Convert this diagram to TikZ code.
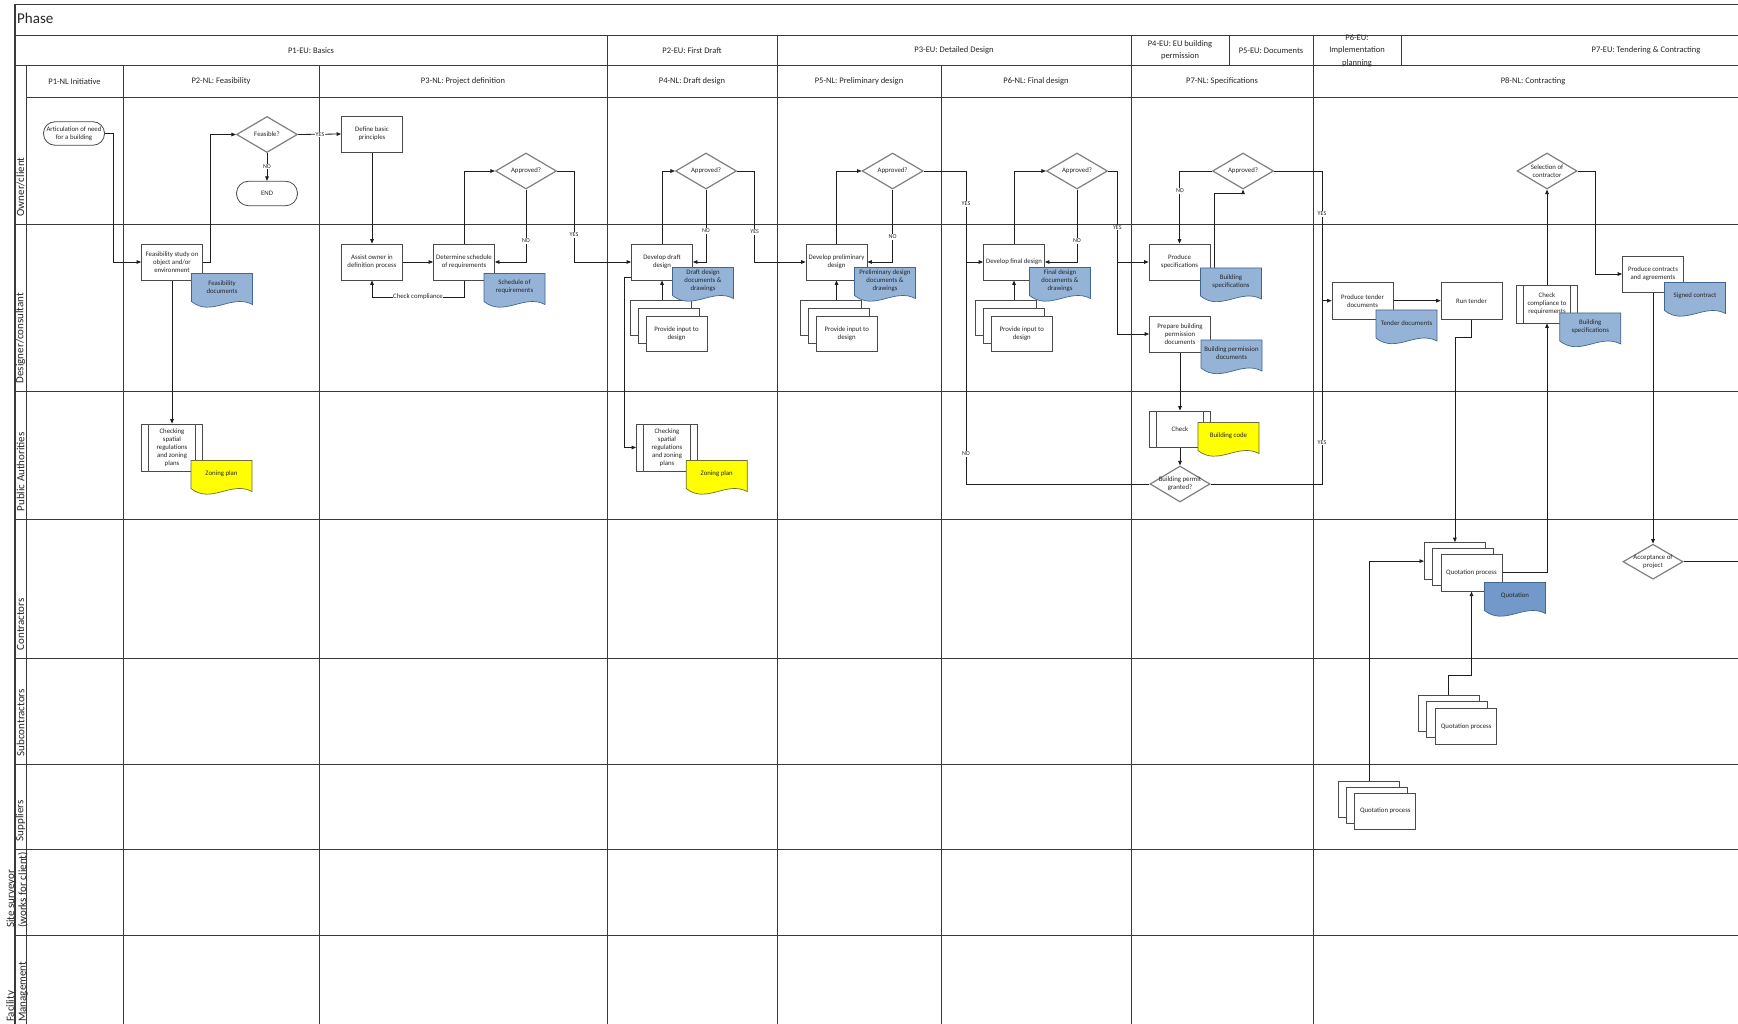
\documentclass[tikz,border=0pt]{standalone}
\usepackage{fontspec}
\setmainfont{Carlito}
\usetikzlibrary{shapes.geometric,arrows.meta,calc,backgrounds}

\definecolor{lanec}{HTML}{3A3A3A}
\definecolor{linec}{HTML}{1E1E1E}
\definecolor{boxc}{HTML}{4A4A4A}
\definecolor{diac}{HTML}{808080}
\definecolor{docblue}{HTML}{95B3D7}
\definecolor{docblueline}{HTML}{41668F}
\definecolor{quoteblue}{HTML}{7399CB}
\definecolor{docyellow}{HTML}{FFFF00}
\definecolor{yellowline}{HTML}{6B6B3A}
\definecolor{txt}{HTML}{262626}

\tikzset{
  laneline/.style={draw=lanec, line width=0.9pt},
  outerline/.style={draw=lanec, line width=1.4pt},
  boxfont/.style={font=\fontsize{6.8}{8}\selectfont, text=txt, align=center},
  procbox/.style={rectangle, draw=boxc, line width=0.8pt, fill=white,
    minimum width=61pt, minimum height=36pt, inner sep=0.5pt, boxfont},
  subproc/.style={procbox, path picture={
    \draw[draw=boxc, line width=0.8pt]
      ([xshift=7pt]path picture bounding box.north west) -- ([xshift=7pt]path picture bounding box.south west)
      ([xshift=-7pt]path picture bounding box.north east) -- ([xshift=-7pt]path picture bounding box.south east);}},
  termbox/.style={rectangle, rounded corners=11.5pt, draw=boxc, line width=0.8pt, fill=white,
    minimum width=61pt, minimum height=23.5pt, inner sep=0pt, boxfont},
  decision/.style={diamond, draw=diac, line width=1.2pt, fill=white,
    minimum width=61pt, minimum height=36pt, inner sep=0pt},
  dectext/.style={boxfont, inner sep=0pt},
  flow/.style={draw=linec, line width=0.8pt, -{Triangle[length=4.5pt,width=3.6pt]}},
  plainflow/.style={draw=linec, line width=0.8pt},
  yn/.style={font=\fontsize{6}{7}\selectfont, fill=white, inner sep=0.6pt, text=txt},
  lanelabel/.style={font=\fontsize{11}{12}\selectfont, rotate=90, anchor=west, text=txt,
    inner sep=0pt, align=left},
  hdr/.style={font=\fontsize{8.5}{10}\selectfont, text=txt, align=center, inner sep=0pt},
}

% document symbol: name, centre x, centre y, fill, outline, text
\newcommand\docnode[6]{%
  \node[inner sep=0pt, minimum width=61pt, minimum height=35pt] (#1) at (#2,#3) {};
  \begin{scope}[shift={(#2-30.5,#3-17.5)}]
    \filldraw[fill=#4, draw=#5, line width=0.7pt]
      (0,0) -- (61,0) -- (61,31) .. controls (40,20) and (20,44) .. (0,28) -- cycle;
  \end{scope}
  \node[boxfont, inner sep=0pt] at (#2,#3-4) {#6};
}

% stack of three process boxes: name, front centre x, y, offset x, offset y, text
\newcommand\stacknode[7]{%
  \node[procbox, minimum height=#7] (#1-b) at (#2-2*#4,#3-2*#5) {};
  \node[procbox, minimum height=#7] (#1-m) at (#2-#4,#3-#5) {};
  \node[procbox, minimum height=#7] (#1) at (#2,#3) {#6};
}

\begin{document}
\begin{tikzpicture}[x=1pt, y=-1pt]
\useasboundingbox (0,0) rectangle (1738,1024);

\begin{pgfonlayer}{background}
\fill[white] (0,0) rectangle (1738,1024);
% swimlane grid
\foreach \yy in {35.5,65.4,224,391,519,658,764,849,935.5}
  \draw[laneline] (15,\yy) -- (1738,\yy);
\draw[laneline] (26,97.5) -- (1738,97.5);
\foreach \xx in {607,777,1131,1313}
  \draw[laneline] (\xx,35.5) -- (\xx,1024);
\foreach \xx in {1229,1401}
  \draw[laneline] (\xx,35.5) -- (\xx,65.4);
\foreach \xx in {26,123,319,941}
  \draw[laneline] (\xx,65.4) -- (\xx,1024);
\draw[outerline] (15,1024) -- (15,4.4) -- (1738,4.4);
\end{pgfonlayer}

% headers
\node[anchor=west, font=\fontsize{15}{17}\selectfont, text=txt, inner sep=0pt] (phase) at (17,18.5) {Phase};
\node[hdr] (eu1) at (311,50.5) {P1-EU: Basics};
\node[hdr] (eu2) at (692,50.5) {P2-EU: First Draft};
\node[hdr] (eu3) at (954,50.5) {P3-EU: Detailed Design};
\node[hdr, font=\fontsize{8.5}{12}\selectfont] (eu4) at (1180,50.5) {P4-EU: EU building\\permission};
\node[hdr] (eu5) at (1271,50.5) {P5-EU: Documents};
\node[hdr, font=\fontsize{8.5}{12.5}\selectfont] (eu6) at (1357,50.5) {P6-EU:\\Implementation\\planning};
\node[hdr] (eu7) at (1646,50.5) {P7-EU: Tendering \& Contracting};

\node[hdr] (nl1) at (74.5,81.5) {P1-NL Initiative};
\node[hdr] (nl2) at (221,81.5) {P2-NL: Feasibility};
\node[hdr] (nl3) at (463,81.5) {P3-NL: Project definition};
\node[hdr] (nl4) at (692,81.5) {P4-NL: Draft design};
\node[hdr] (nl5) at (859,81.5) {P5-NL: Preliminary design};
\node[hdr] (nl6) at (1036,81.5) {P6-NL: Final design};
\node[hdr] (nl7) at (1222,81.5) {P7-NL: Specifications};
\node[hdr] (nl8) at (1533,81.5) {P8-NL: Contracting};

% lane labels
\node[lanelabel] (l1) at (20.5,216.5) {Owner/client};
\node[lanelabel] (l2) at (20.5,383.5) {Designer/consultant};
\node[lanelabel] (l3) at (20.5,511.5) {Public Authorities};
\node[lanelabel] (l4) at (20.5,650.5) {Contractors};
\node[lanelabel] (l5) at (20.5,756.5) {Subcontractors};
\node[lanelabel] (l6) at (20.5,841.5) {Suppliers};
\node[lanelabel] (l7) at (17,928) {Site surveyor\\(works for client)};
\node[lanelabel] (l8) at (17,1022) {Facility\\Management};

% owner / client
\node[termbox] (art) at (74,133.5) {Articulation of need\\for a building};
\node[decision, label={[dectext]center:Feasible?}] (feas) at (267,134.5) {};
\node[termbox, minimum height=24.5pt, rounded corners=12pt] (endt) at (267,193.5) {END};
\node[procbox] (basic) at (372,134) {Define basic\\principles};
\node[decision, label={[dectext]center:Approved?}] (ap3) at (526,171) {};
\node[decision, label={[dectext]center:Approved?}] (ap4) at (706,171) {};
\node[decision, label={[dectext]center:Approved?}] (ap5) at (892.6,171) {};
\node[decision, label={[dectext]center:Approved?}] (ap6) at (1077,171) {};
\node[decision, label={[dectext]center:Approved?}] (ap7) at (1243,171) {};
\node[decision, minimum width=60pt, label={[dectext]center:{Selection of\\contractor}}] (selc) at (1547,171) {};

% designer / consultant
\node[procbox] (fstudy) at (172,262) {Feasibility study on\\object and/or\\environment};
\node[procbox] (assist) at (372,262) {Assist owner in\\definition process};
\node[procbox] (sched) at (464,262) {Determine schedule\\of requirements};
\node[procbox] (ddraft) at (662,262) {Develop draft\\design};
\node[procbox] (dprelim) at (836.5,262) {Develop preliminary\\design};
\node[procbox] (dfinal) at (1014,262) {Develop final design};
\node[procbox] (pspec) at (1179.5,262) {Produce\\specifications};
\node[procbox] (pbp) at (1180,334) {Prepare building\\permission\\documents};
\node[procbox, minimum height=37pt] (ptender) at (1362.5,300.7) {Produce tender\\documents};
\node[procbox, minimum height=37pt] (rtender) at (1471.5,300.7) {Run tender};
\node[subproc, minimum height=38pt] (ccomp) at (1547,304) {Check\\compliance to\\requirements};
\node[procbox] (pcontr) at (1653,274) {Produce contracts\\and agreements};
\stacknode{in4}{676.5}{334}{8}{8}{Provide input to\\design}{35pt}
\stacknode{in5}{846.7}{334}{8}{8}{Provide input to\\design}{35pt}
\stacknode{in6}{1021.8}{334}{8}{8}{Provide input to\\design}{35pt}

% public authorities
\node[subproc, minimum height=47pt] (chk1) at (172,447.5) {Checking\\spatial\\regulations\\and zoning\\plans};
\node[subproc, minimum height=47pt] (chk2) at (667,447.5) {Checking\\spatial\\regulations\\and zoning\\plans};
\node[subproc] (chk) at (1180,429) {Check};
\node[decision, minimum width=60pt, label={[dectext]center:{Building permit\\granted?}}] (bpg) at (1180,484) {};

% contractors, subcontractors, suppliers
\stacknode{qc}{1471.5}{572.7}{8.3}{5.8}{Quotation process}{37pt}
\node[decision, minimum width=60pt, minimum height=35pt, label={[dectext]center:{Acceptance of\\project}}] (accp) at (1653,561.7) {};
\stacknode{qs}{1466.2}{726.2}{8.85}{6.5}{Quotation process}{36pt}
\stacknode{qp}{1385.3}{811}{8}{6}{Quotation process}{36pt}

% documents
\docnode{fdoc}{222}{291}{docblue}{docblueline}{Feasibility\\documents}
\docnode{sdoc}{514.5}{291}{docblue}{docblueline}{Schedule of\\requirements}
\docnode{dddoc}{703}{285}{docblue}{docblueline}{Draft design\\documents \&\\drawings}
\docnode{pddoc}{885}{285}{docblue}{docblueline}{Preliminary design\\documents \&\\drawings}
\docnode{fddoc}{1060}{285}{docblue}{docblueline}{Final design\\documents \&\\drawings}
\docnode{bsdoc}{1231}{285.5}{docblue}{docblueline}{Building\\specifications}
\docnode{bpdoc}{1231.5}{357.5}{docblue}{docblueline}{Building permission\\documents}
\docnode{tdoc}{1406.5}{327.5}{docblue}{docblueline}{Tender documents}
\docnode{bs2doc}{1590.3}{330.5}{docblue}{docblueline}{Building\\specifications}
\docnode{scdoc}{1695}{300}{docblue}{docblueline}{Signed contract}
\docnode{zp1}{221.5}{478}{docyellow}{yellowline}{Zoning plan}
\docnode{zp2}{716.7}{478}{docyellow}{yellowline}{Zoning plan}
\docnode{bcode}{1228.5}{440}{docyellow}{yellowline}{Building code}
\docnode{qdoc}{1515}{600}{quoteblue}{docblueline}{Quotation}

% connectors
\begin{pgfonlayer}{background}
\draw[flow] (art.east) -- (113,133.5) |- (fstudy.west);
\draw[flow] (fstudy.east) -- (210,262) |- (feas.west);
\draw[flow] (feas.east) -- (basic.west);
\draw[flow] (feas.south) -- (endt.north);
\draw[flow] (basic.south) -- (assist.north);
\draw[flow] (assist.east) -- (sched.west);
\draw[flow] (sched.south) -- (464,297) -- (372,297) -- (assist.south);
\draw[flow] (sched.north) |- (ap3.west);
\draw[flow] (ap3.south) |- (sched.east);
\draw[flow] (ap3.east) -- (574,171) |- (ddraft.west);
\draw[flow] (fstudy.south) -- (chk1.north);

\draw[flow] (ddraft.north) |- (ap4.west);
\draw[flow] (ap4.south) |- (ddraft.east);
\draw[flow] (ap4.east) -- (754.7,171) |- (dprelim.west);
\draw[flow] (ddraft.south |- in4-b.north) -- (ddraft.south);
\draw[flow] ([yshift=3pt]ddraft.south west) -- ++(-7,0) |- (chk2.west);

\draw[flow] (dprelim.north) |- (ap5.west);
\draw[flow] (ap5.south) |- (dprelim.east);
\draw[flow] (ap5.east) -- (966,171) |- (dfinal.west);
\draw[flow] (dprelim.south |- in5-b.north) -- (dprelim.south);
\draw[plainflow] (bpg.west) -- (966,484) -- (966,262);

\draw[flow] (dfinal.north) |- (ap6.west);
\draw[flow] (ap6.south) |- (dfinal.east);
\draw[flow] (ap6.east) -- (1117.3,171) |- (pspec.west);
\draw[flow] (1117.3,262) |- (pbp.west);
\draw[flow] (dfinal.south |- in6-b.north) -- (dfinal.south);

\draw[flow] (ap7.west) -| (pspec.north);
\draw[flow] ([xshift=14.5pt]bsdoc.north west) |- (1230,193.3) -| (ap7.south);
\draw[flow] (ap7.east) -- (1322,171) |- (ptender.west);
\draw[plainflow] (bpg.east) -- (1322,484) -- (1322,300.7);
\draw[flow] (pbp.south) -- (chk.north);
\draw[flow] (chk.south) -- (bpg.north);

\draw[flow] (ptender.east) -- (rtender.west);
\draw[flow] (rtender.south) -- ++(0,18) -| (qc-b.north);
\draw[flow] (ccomp.north) -- (selc.south);
\draw[flow] (selc.east) -- (1595,171) |- (pcontr.west);
\draw[flow] (qc.east) -| (ccomp.south);
\draw[flow] (pcontr.south) -- (accp.north);
\draw[plainflow] (accp.east) -- ++(60,0);
\draw[flow] (qs-b.north) -- ++(0,-19) -| (qc.south);
\draw[flow] (qp-b.north) |- (qc-b.west);

% branch labels
\node[yn] (y1) at (320,134.5) {YES};
\node[yn] (n1) at (267,166.7) {NO};
\node[yn] (n3) at (526,241) {NO};
\node[yn] (y3) at (574,235) {YES};
\node[yn] (n4) at (706,231) {NO};
\node[yn] (y4) at (754.7,232) {YES};
\node[yn] (n5) at (892.6,237) {NO};
\node[yn] (y5) at (966,204) {YES};
\node[yn] (n5b) at (966,454) {NO};
\node[yn] (n6) at (1077,241) {NO};
\node[yn] (y6) at (1117.3,227.7) {YES};
\node[yn] (n7) at (1180,191) {NO};
\node[yn] (y7) at (1322,214) {YES};
\node[yn] (y8) at (1322,442.7) {YES};
\node[yn, font=\fontsize{6.8}{8}\selectfont] (cc) at (418,297) {Check compliance};
\end{pgfonlayer}
\end{tikzpicture}
\end{document}
